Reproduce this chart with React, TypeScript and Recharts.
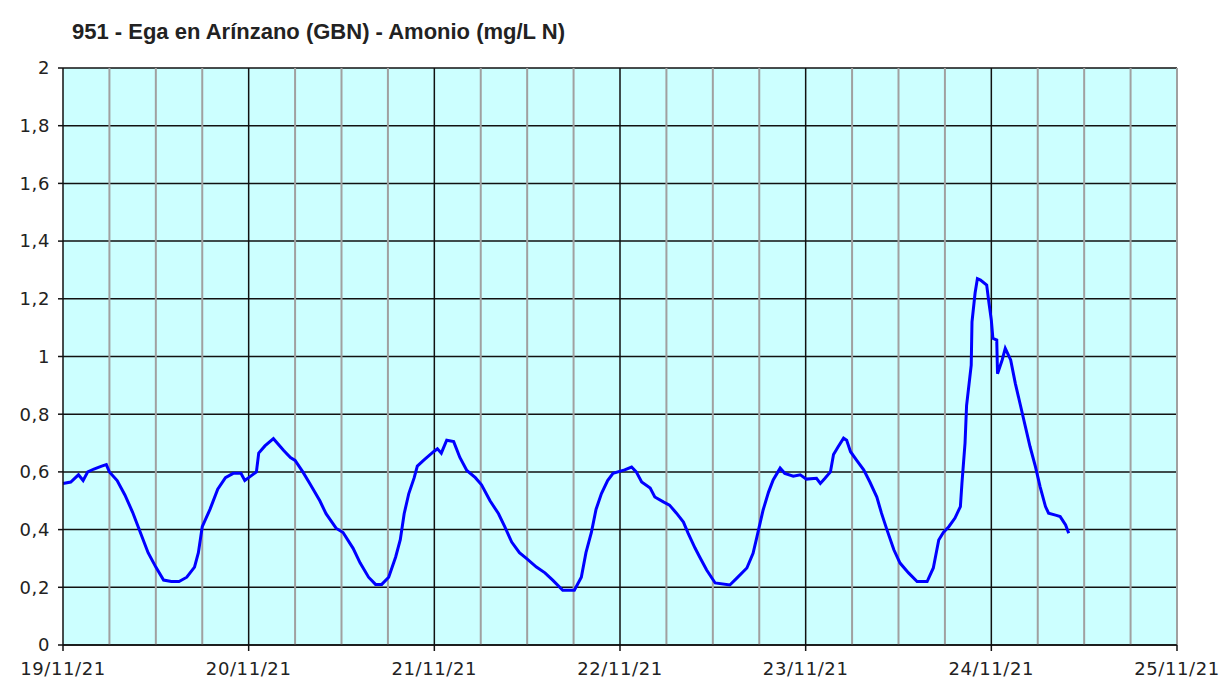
import { LineChart, Line, XAxis, YAxis, CartesianGrid, ReferenceLine } from 'recharts';

// hours counted from 19/11/21 00:00
const hours = [
  0, 1, 2, 2.6, 3.2, 4, 5, 5.6, 6, 7, 8, 9, 10, 11, 12, 13, 14, 15, 16, 17, 17.5, 18, 19, 20, 21, 22, 23, 23.5,
  24, 25, 25.3, 26.1, 27.2, 28.5, 29.4, 30, 31, 31.9, 33.2, 34, 35.3, 36.2, 37.5, 38.4, 39.5, 40.4, 41.2, 42.1,
  43, 43.6, 44.1, 44.7, 45.4, 45.8, 46.6, 47.9, 48.4, 48.9, 49.6, 50.5, 51.3, 52.2, 53.3, 54.1, 55.2, 56.3, 57.1,
  58, 59, 59.9, 61.2, 62.3, 63.3, 64.6, 66.1, 67, 67.6, 68.3, 68.9, 69.6, 70.4, 71.1, 72.6, 73.5, 74.1, 74.8,
  75.9, 76.5, 77.6, 78.4, 79.3, 80.2, 80.8, 81.7, 82.3, 83.2, 84.3, 86.2, 87.1, 88.4, 89.2, 89.7, 90.5, 91.2,
  91.8, 92.7, 93.3, 94.4, 95.3, 96.1, 97.4, 97.9, 98.5, 99.2, 99.6, 100.2, 100.9, 101.3, 101.8, 102.6, 103.5,
  104.3, 105.2, 105.8, 106.5, 107.4, 108.2, 109.3, 110.4, 111.7, 112.5, 113.2, 113.8, 114.5, 115.3, 116, 116.2,
  116.6, 116.8, 117.4, 117.5, 117.9, 118.2, 118.6, 119.4, 119.7, 120, 120.2, 120.7, 120.8, 121.4, 121.8, 122.5,
  123.1, 123.7, 124.4, 125, 125.7, 126.3, 127, 127.4, 128.3, 128.9, 129.6, 130,
];

const ammonia = [
  0.56, 0.565, 0.59, 0.57, 0.6, 0.61, 0.62, 0.625, 0.6, 0.57, 0.52, 0.46, 0.39, 0.32, 0.27, 0.225, 0.22, 0.22, 0.235, 0.27, 0.32, 0.41, 0.47, 0.54, 0.58, 0.595, 0.595, 0.57,
  0.58, 0.6, 0.665, 0.69, 0.715, 0.675, 0.65, 0.64, 0.6, 0.56, 0.5, 0.455, 0.405, 0.39, 0.335, 0.285, 0.235, 0.21, 0.21, 0.235,
  0.305, 0.365, 0.455, 0.525, 0.58, 0.62, 0.64, 0.67, 0.68, 0.665, 0.71, 0.705, 0.65, 0.605, 0.58, 0.555, 0.5, 0.455, 0.41,
  0.357, 0.32, 0.3, 0.27, 0.25, 0.225, 0.19, 0.19, 0.235, 0.32, 0.39, 0.47, 0.525, 0.57, 0.595, 0.607, 0.617, 0.6, 0.565,
  0.544, 0.513, 0.496, 0.485, 0.457, 0.426, 0.388, 0.336, 0.305, 0.26, 0.215, 0.208, 0.232, 0.267, 0.318, 0.375, 0.468, 0.53,
  0.572, 0.613, 0.595, 0.585, 0.59, 0.575, 0.578, 0.56, 0.578, 0.6, 0.66, 0.687, 0.717, 0.71, 0.67, 0.64, 0.607,
  0.565, 0.513, 0.457, 0.4, 0.33, 0.284, 0.25, 0.22, 0.22, 0.267, 0.364, 0.39, 0.41, 0.44, 0.48, 0.56,
  0.7, 0.83, 0.97, 1.12, 1.22, 1.27, 1.265, 1.248, 1.184, 1.126, 1.063, 1.057, 0.94, 0.988, 1.028, 0.988,
  0.907, 0.838, 0.757, 0.688, 0.618, 0.549, 0.48, 0.457, 0.45, 0.445, 0.416, 0.387,
];

const dayTicks = [0, 24, 48, 72, 96, 120, 144];
const dayLabels = ['19/11/21', '20/11/21', '21/11/21', '22/11/21', '23/11/21', '24/11/21', '25/11/21'];
const sixHourLines = [6, 12, 18, 30, 36, 42, 54, 60, 66, 78, 84, 90, 102, 108, 114, 126, 132, 138, 144];
const yTicks = [0, 0.2, 0.4, 0.6, 0.8, 1, 1.2, 1.4, 1.6, 1.8, 2];

const data = hours.map((h, i) => ({ h, v: ammonia[i] }));

const tickFont = { fill: '#222', fontSize: 18, fontFamily: 'DejaVu Sans', letterSpacing: 0.6 };

export default function App() {
  return (
    <div style={{ position: 'absolute', left: 0, top: 0, width: 1222, height: 680, background: '#fff' }}>
      <div
        style={{
          position: 'absolute',
          left: 72,
          top: 19,
          fontFamily: 'Liberation Sans, Arial',
          fontWeight: 'bold',
          fontSize: 22,
          color: '#222',
          whiteSpace: 'nowrap',
        }}
      >
        951 - Ega en Arínzano (GBN) - Amonio (mg/L N)
      </div>
      <LineChart width={1222} height={680} data={data} margin={{ top: 68, right: 45, left: 13, bottom: 0 }}>
        <CartesianGrid fill="#ccffff" stroke="#111" strokeWidth={1.5} vertical={false} horizontalValues={yTicks} />
        {sixHourLines.map((t) => (
          <ReferenceLine key={'q' + t} x={t} stroke="#a0a0a0" strokeWidth={2} />
        ))}
        {dayTicks.slice(1, -1).map((t) => (
          <ReferenceLine key={'d' + t} x={t} stroke="#111" strokeWidth={1.5} />
        ))}
        <XAxis
          dataKey="h"
          type="number"
          domain={[0, 144]}
          ticks={dayTicks}
          interval={0}
          tickFormatter={(t) => dayLabels[dayTicks.indexOf(t)]}
          stroke="#111"
          strokeWidth={1.5}
          tickSize={6}
          tickMargin={11}
          height={35}
          tick={tickFont}
        />
        <YAxis
          type="number"
          domain={[0, 2]}
          ticks={yTicks}
          interval={0}
          tickFormatter={(v) => String(+v.toFixed(1)).replace('.', ',')}
          stroke="#111"
          strokeWidth={1.5}
          tickSize={5}
          tickMargin={8}
          width={50}
          tick={tickFont}
        />
        <Line
          type="linear"
          dataKey="v"
          stroke="#0000ff"
          strokeWidth={3}
          dot={false}
          isAnimationActive={false}
        />
      </LineChart>
    </div>
  );
}
